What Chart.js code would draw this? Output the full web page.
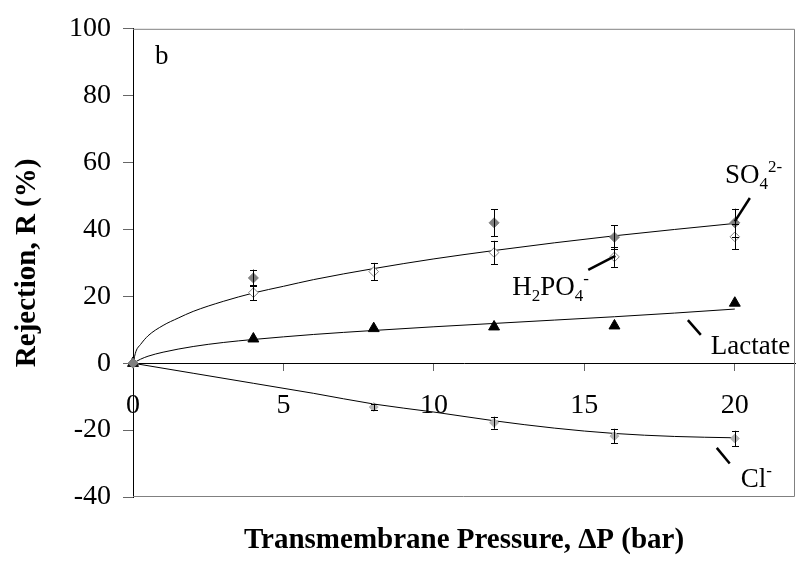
<!DOCTYPE html>
<html><head><meta charset="utf-8">
<script src="https://cdn.jsdelivr.net/npm/chart.js@4"></script>
<style>html,body{margin:0;padding:0;background:#fff}#wrap{width:805px;height:568px}</style>
</head><body><div id="wrap"><canvas id="c" width="805" height="568"></canvas></div>
<script>
// ---- data ----
const pressure = [0, 4, 8, 12, 16, 20];
const so4 = [0, 25.5, null, 42, 37.7, 42];
const so4Err = [0, 2.5, null, 4, 3.5, 4.2];
const h2po4 = [0, 21.1, 27.4, 33.1, 31.8, 37.8];
const h2po4Err = [0, 2.2, 2.6, 3.5, 3, 3.7];
const lactate = [0, 7.3, 10.4, 10.9, 11.2, 18];
const chloride = [0, null, -13.1, -17.8, -21.8, -22.5];
const chlorideErr = [0, null, 1, 1.8, 2.2, 2.3];

// fitted trend lines
const so4FitX = [0, 0.1, 0.25, 0.5, 1, 1.5, 2, 3, 4, 5, 6, 8, 10, 12, 14, 16, 18, 20];
const so4FitY = [0, 3.6, 5.6, 8.2, 11.3, 13.5, 15.5, 18.5, 21, 23, 25, 28.3, 31.2, 33.7, 36, 38.1, 40, 41.8];
const lactateFitX = [0, 0.25, 0.5, 1, 2, 3, 4, 6, 8, 10, 12, 14, 16, 18, 20];
const lactateFitY = [0, 1.2, 2.1, 3.3, 5, 6.2, 7.1, 8.6, 9.8, 10.9, 11.9, 12.9, 13.9, 15, 16.2];
const clFitX = [0, 2, 4, 6, 8, 10, 12, 14, 16, 18, 20];
const clFitY = [0, -3, -6, -9, -12.2, -14.6, -17.2, -19.4, -21, -21.9, -22.3];

const xTicks = [0, 5, 10, 15, 20];
const yTicks = [-40, -20, 0, 20, 40, 60, 80, 100];

const xTitle = 'Transmembrane Pressure, \u0394P (bar)';
const yTitle = 'Rejection, R (%)';

// text labels: [text, 0 normal / 1 subscript / -1 superscript]
const labelParts = [
  [['SO', 0], ['4', 1], ['2-', -1]],
  [['H', 0], ['2', 1], ['PO', 0], ['4', 1], ['-', -1]],
  [['Lactate', 0]],
  [['Cl', 0], ['-', -1]],
  [['b', 0]]
];
const labelAt = [[19.67, 53.8], [12.6, 20.4], [19.2, 2.7], [20.2, -37], [0.73, 89.5]];
const pointerLines = [[20.5, 49.4, 20.0, 42.4], [15.13, 27.9, 16.03, 32.1], [18.44, 12.9, 18.87, 8.5], [19.4, -25.3, 19.83, -30], null];

const pts = (xs, ys) => xs.map((x, i) => ({x: x, y: ys[i]})).filter(p => p.y !== null);
const SERIF = '"Liberation Serif", "Times New Roman", serif';

const errorBars = {
  id: 'errorBars',
  afterDatasetsDraw(chart) {
    const {ctx, scales: {x, y}} = chart;
    const sets = [[so4, so4Err], [h2po4, h2po4Err], [chloride, chlorideErr]];
    ctx.save();
    ctx.strokeStyle = '#000';
    ctx.lineWidth = 1;
    sets.forEach(([vals, errs]) => {
      vals.forEach((v, i) => {
        if (v === null || !errs[i]) return;
        const px = Math.round(x.getPixelForValue(pressure[i])) + 0.5;
        const top = y.getPixelForValue(v + errs[i]);
        const bot = y.getPixelForValue(v - errs[i]);
        ctx.beginPath();
        ctx.moveTo(px, top); ctx.lineTo(px, bot);
        ctx.moveTo(px - 3.5, Math.round(top) + 0.5); ctx.lineTo(px + 3.5, Math.round(top) + 0.5);
        ctx.moveTo(px - 3.5, Math.round(bot) + 0.5); ctx.lineTo(px + 3.5, Math.round(bot) + 0.5);
        ctx.stroke();
      });
    });
    ctx.restore();
  }
};

const frameAndLabels = {
  id: 'frameAndLabels',
  afterDraw(chart) {
    const {ctx, chartArea: a, scales: {x, y}} = chart;
    ctx.save();
    ctx.strokeStyle = '#808080';
    ctx.lineWidth = 1;
    ctx.beginPath();
    ctx.moveTo(a.left, a.top + 0.5); ctx.lineTo(a.right - 0.5, a.top + 0.5);
    ctx.lineTo(a.right - 0.5, a.bottom - 0.5); ctx.lineTo(a.left, a.bottom - 0.5);
    ctx.stroke();

    ctx.fillStyle = '#000';
    ctx.textBaseline = 'alphabetic';
    ctx.textAlign = 'left';
    labelParts.forEach((parts, k) => {
      let px = x.getPixelForValue(labelAt[k][0]);
      const py = y.getPixelForValue(labelAt[k][1]);
      parts.forEach(([t, mode]) => {
        ctx.font = (mode === 0 ? '27px ' : '17px ') + SERIF;
        const dy = mode === 1 ? 6 : (mode === -1 ? -11 : 0);
        ctx.fillText(t, px, py + dy);
        px += ctx.measureText(t).width;
      });
      const L = pointerLines[k];
      if (L) {
        ctx.strokeStyle = '#000';
        ctx.lineWidth = 2.5;
        ctx.beginPath();
        ctx.moveTo(x.getPixelForValue(L[0]), y.getPixelForValue(L[1]));
        ctx.lineTo(x.getPixelForValue(L[2]), y.getPixelForValue(L[3]));
        ctx.stroke();
      }
    });
    ctx.restore();
  }
};

const fitStyle = {showLine: true, pointRadius: 0, borderColor: '#000', borderWidth: 1, cubicInterpolationMode: 'monotone', fill: false, order: 10, clip: false};

new Chart(document.getElementById('c'), {
  type: 'scatter',
  data: {
    datasets: [
      Object.assign({label: 'SO4 fit', data: pts(so4FitX, so4FitY)}, fitStyle),
      Object.assign({label: 'Lactate fit', data: pts(lactateFitX, lactateFitY)}, fitStyle),
      Object.assign({label: 'Cl fit', data: pts(clFitX, clFitY)}, fitStyle),
      {label: 'Cl-', data: pts(pressure, chloride), pointStyle: 'rectRot', pointRadius: 4.5, backgroundColor: '#b3b3b3', borderColor: '#b3b3b3', borderWidth: 1, order: 5, clip: false},
      {label: 'H2PO4-', data: pts(pressure, h2po4), pointStyle: 'rectRot', pointRadius: 4.8, backgroundColor: '#fff', borderColor: '#808080', borderWidth: 1, order: 4, clip: false},
      {label: 'Lactate', data: pts(pressure, lactate), pointStyle: 'triangle', pointRadius: 6.3, backgroundColor: '#000', borderColor: '#000', borderWidth: 1, order: 3, clip: false},
      {label: 'SO4 2-', data: pts(pressure, so4), pointStyle: 'rectRot', pointRadius: 5, backgroundColor: '#808080', borderColor: '#808080', borderWidth: 1, order: 1, clip: false}
    ]
  },
  options: {
    responsive: false,
    animation: false,
    devicePixelRatio: 1,
    layout: {padding: {left: 0, right: 10, top: 21, bottom: 0}},
    plugins: {legend: {display: false}, tooltip: {enabled: false}},
    scales: {
      x: {
        type: 'linear', min: 0, max: 22, position: {y: 0},
        afterBuildTicks: s => { s.ticks = xTicks.map(v => ({value: v})); },
        ticks: {font: {family: SERIF, size: 28}, color: '#000', padding: 19, maxRotation: 0},
        grid: {drawOnChartArea: false, drawTicks: true, tickLength: 7, color: '#666'},
        border: {display: true, color: '#000', width: 1}
      },
      x2: {
        type: 'linear', min: 0, max: 22, position: 'bottom', axis: 'x',
        ticks: {display: false},
        grid: {display: false, drawTicks: false},
        border: {display: false},
        title: {display: true, text: xTitle, font: {family: SERIF, size: 29, weight: 'bold'}, color: '#000', padding: {top: 0, bottom: 10}},
        afterFit: s => { s.height = 71; }
      },
      y: {
        type: 'linear', min: -40, max: 100, position: 'left',
        afterBuildTicks: s => { s.ticks = yTicks.map(v => ({value: v})); },
        ticks: {font: {family: SERIF, size: 28}, color: '#000', padding: 12},
        grid: {drawOnChartArea: false, drawTicks: true, tickLength: 10, color: '#666'},
        border: {display: true, color: '#000', width: 1},
        title: {display: true, text: yTitle, font: {family: SERIF, size: 29, weight: 'bold'}, color: '#000', padding: {top: 10, bottom: 0}},
        afterFit: s => { s.width = 133; }
      }
    }
  },
  plugins: [errorBars, frameAndLabels]
});
</script>
</body></html>
